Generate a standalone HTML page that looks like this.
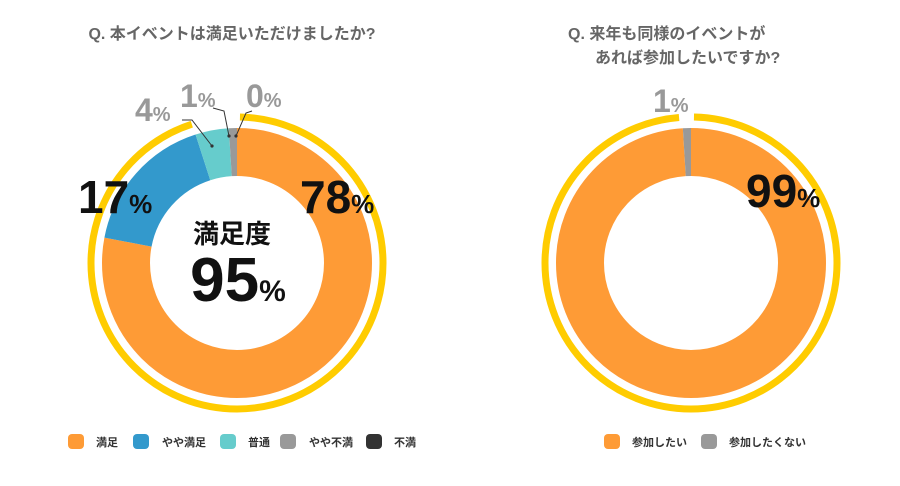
<!DOCTYPE html>
<html><head><meta charset="utf-8"><style>
body{margin:0;background:#fff;width:900px;height:481px;overflow:hidden;font-family:"Liberation Sans","Noto Sans CJK JP",sans-serif}
text{font-family:"Liberation Sans","Noto Sans CJK JP",sans-serif}
</style></head><body>
<svg width="900" height="481" viewBox="0 0 900 481" xmlns="http://www.w3.org/2000/svg">
<g transform="translate(237,263) rotate(-90)" fill="none">
 <circle r="111" stroke="#fe9b36" stroke-width="48" stroke-dasharray="543.9 1000"/>
 <circle r="111" stroke="#3399cc" stroke-width="48" stroke-dasharray="0 543.9 118.6 1000"/>
 <circle r="111" stroke="#66cccc" stroke-width="48" stroke-dasharray="0 662.5 27.9 1000"/>
 <circle r="111" stroke="#999999" stroke-width="48" stroke-dasharray="0 690.4 7 1000"/>
 <circle r="146" stroke="#ffcc00" stroke-width="7" stroke-dasharray="0 3 868 1000"/>
</g>
<g transform="translate(691,263) rotate(-90)" fill="none">
 <circle r="111" stroke="#fe9b36" stroke-width="48" stroke-dasharray="690.4 1000"/>
 <circle r="111" stroke="#999999" stroke-width="48" stroke-dasharray="0 690.4 7 1000"/>
 <circle r="146" stroke="#ffcc00" stroke-width="7" stroke-dasharray="0 3 902 1000"/>
</g>
<g stroke="#333" stroke-width="1" fill="none">
 <polyline points="182,120 192,120 212,146"/>
 <polyline points="213,108 224,111 229,136"/>
 <polyline points="252,111 246,113 236,136"/>
</g>
<g fill="#333"><circle cx="212" cy="146" r="1.6"/><circle cx="229" cy="136" r="1.6"/><circle cx="236" cy="136" r="1.6"/></g>
<g font-weight="bold" fill="#666" font-size="16">
 <text x="232" y="39" text-anchor="middle">Q. 本イベントは満足いただけましたか?</text>
 <text x="568" y="39">Q. 来年も同様のイベントが</text>
 <text x="595" y="63">あれば参加したいですか?</text>
</g>
<g font-weight="bold" fill="#999">
 <text x="135" y="121" font-size="32">4<tspan font-size="20">%</tspan></text>
 <text x="180" y="107" font-size="32">1<tspan font-size="20">%</tspan></text>
 <text x="246" y="107" font-size="32">0<tspan font-size="20">%</tspan></text>
 <text x="653" y="112" font-size="32">1<tspan font-size="20">%</tspan></text>
</g>
<g font-weight="bold" fill="#111">
 <text x="78" y="213" font-size="46">17<tspan font-size="26">%</tspan></text>
 <text x="300" y="213" font-size="46">78<tspan font-size="26">%</tspan></text>
 <text x="746" y="207" font-size="46">99<tspan font-size="26">%</tspan></text>
 <text x="232" y="243" font-size="26" text-anchor="middle">満足度</text>
 <text x="238" y="301" font-size="62" text-anchor="middle">95<tspan font-size="30">%</tspan></text>
</g>
<g font-size="11" fill="#333" font-weight="bold">
 <rect x="68" y="434" width="16" height="15" rx="4" fill="#fe9b36"/><text x="96" y="446">満足</text>
 <rect x="133" y="434" width="16" height="15" rx="4" fill="#3399cc"/><text x="162" y="446">やや満足</text>
 <rect x="220" y="434" width="16" height="15" rx="4" fill="#66cccc"/><text x="248" y="446">普通</text>
 <rect x="280" y="434" width="16" height="15" rx="4" fill="#999999"/><text x="309" y="446">やや不満</text>
 <rect x="366" y="434" width="16" height="15" rx="4" fill="#333333"/><text x="394" y="446">不満</text>
 <rect x="604" y="434" width="16" height="15" rx="4" fill="#fe9b36"/><text x="632" y="446">参加したい</text>
 <rect x="701" y="434" width="16" height="15" rx="4" fill="#999999"/><text x="729" y="446">参加したくない</text>
</g>
</svg>
</body></html>
